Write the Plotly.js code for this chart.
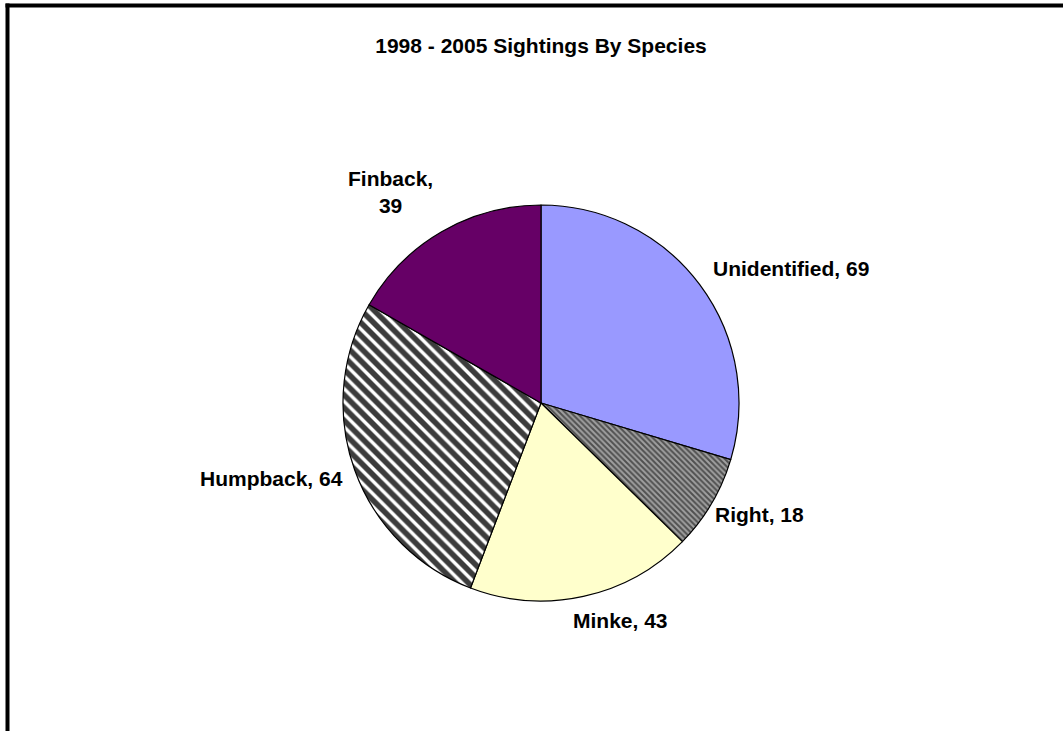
<!DOCTYPE html>
<html>
<head>
<meta charset="utf-8">
<script src="https://cdn.plot.ly/plotly-3.0.1.min.js"></script>
<style>
  html, body { margin: 0; padding: 0; background: #ffffff; }
  #chart { width: 1063px; height: 731px; }
</style>
</head>
<body>
<div id="chart"></div>
<script>
// ---- data ----
const chartTitle = "1998 - 2005 Sightings By Species";
const species = ["Unidentified", "Right", "Minke", "Humpback", "Finback"];
const sightings = [69, 18, 43, 64, 39];
const sliceColors = ["#9999FF", "#999999", "#FFFFCC", "#FFFFFF", "#660066"];

// ---- style (positions in pixels of the 1063x731 page) ----
const W = 1063, H = 731;
const cx = 541, cy = 403, r = 198;
const labelPos = [
  [791, 268], [759, 514], [620, 620], [271, 479], [390, 192]
];
const labelBreak = [", ", ", ", ", ", ", ", ",<br>"];

const patternShape = ["", "\\", "", "\\", ""];
const patternFg = ["#000000", "#505050", "#000000", "#3c3c3c", "#000000"];
const patternBg = ["#9999FF", "#a0a0a0", "#FFFFCC", "#FFFFFF", "#660066"];
const patternSize = [8, 4, 8, 9, 8];
const patternSolidity = [0.3, 0.5, 0.3, 0.62, 0.3];

const font = "Arial, 'Liberation Sans', sans-serif";

const trace = {
  type: "pie",
  labels: species,
  values: sightings,
  sort: false,
  direction: "clockwise",
  rotation: 0,
  textinfo: "none",
  hoverinfo: "label+value",
  showlegend: false,
  domain: {
    x: [(cx - r) / W, (cx + r) / W],
    y: [(H - cy - r) / H, (H - cy + r) / H]
  },
  marker: {
    colors: sliceColors,
    line: { color: "#000000", width: 1.2 },
    pattern: {
      shape: patternShape,
      fgcolor: patternFg,
      bgcolor: patternBg,
      size: patternSize,
      solidity: patternSolidity,
      fillmode: "replace"
    }
  }
};

const annotations = species.map((s, i) => ({
  xref: "paper", yref: "paper",
  x: labelPos[i][0] / W,
  y: 1 - labelPos[i][1] / H,
  xanchor: "center", yanchor: "middle",
  text: "<b>" + s + labelBreak[i] + sightings[i] + "</b>",
  showarrow: false,
  align: "center",
  font: { family: font, size: 21, color: "#000000" }
}));

const layout = {
  width: W, height: H,
  margin: { l: 0, r: 0, t: 0, b: 0 },
  paper_bgcolor: "#ffffff",
  plot_bgcolor: "#ffffff",
  title: {
    text: "<b>" + chartTitle + "</b>",
    x: cx / W, xanchor: "center",
    y: 1 - 46 / H, yanchor: "middle",
    font: { family: font, size: 21, color: "#000000" }
  },
  annotations: annotations,
  shapes: [
    { type: "line", xref: "paper", yref: "paper",
      x0: 5.5 / W, x1: 1.05, y0: 1 - 5.5 / H, y1: 1 - 5.5 / H,
      line: { color: "#000000", width: 4 } },
    { type: "line", xref: "paper", yref: "paper",
      x0: 7.5 / W, x1: 7.5 / W, y0: 1 - 3.5 / H, y1: -0.05,
      line: { color: "#000000", width: 4 } }
  ]
};

Plotly.newPlot("chart", [trace], layout, { staticPlot: true, displayModeBar: false });
</script>
</body>
</html>
